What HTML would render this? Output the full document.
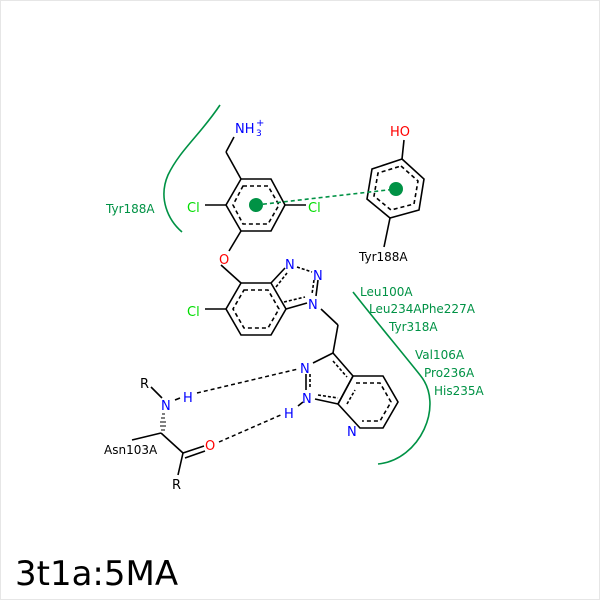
<!DOCTYPE html>
<html><head><style>
html,body{margin:0;padding:0;background:#fff}
svg{display:block}
text{font-family:"DejaVu Sans","Liberation Sans",sans-serif}
</style></head><body>
<svg width="600" height="600" viewBox="0 0 600 600" xmlns="http://www.w3.org/2000/svg">
<rect x="0.5" y="0.5" width="599" height="599" fill="#fff" stroke="#e6e6e6"/>
<g fill="none" stroke="#000" stroke-width="1.6">
<!-- ring A -->
<polygon points="241,179 271,179 285,205 271,231 241,231 226,205"/>
<polygon points="243,186 268,186 279,205 268,224 243,224 233,205" stroke-dasharray="4,3"/>
<line x1="241" y1="179" x2="226" y2="152"/>
<line x1="226" y1="152" x2="234" y2="137"/>
<line x1="226" y1="205" x2="205" y2="205"/>
<line x1="285" y1="205" x2="306" y2="205"/>
<line x1="241" y1="231" x2="229" y2="251"/>
<line x1="221" y1="265" x2="241" y2="283"/>
<!-- ring B -->
<polygon points="402,159 424,179 419,210 390,218 367,199 372,169"/>
<polygon points="401,166 418,181 414,204 391,210 374,196 378,173" stroke-dasharray="4,3"/>
<line x1="402" y1="159" x2="404" y2="140"/>
<line x1="390" y1="218" x2="384" y2="247"/>
<!-- benzotriazole -->
<polygon points="241,283 271,283 286,309 271,335 241,335 226,309"/>
<polygon points="244,290 268,290 279,309 268,328 244,328 233,309" stroke-dasharray="4,3"/>
<line x1="226" y1="309" x2="205" y2="309"/>
<line x1="271" y1="283" x2="285" y2="268"/>
<line x1="286" y1="309" x2="307" y2="303"/>
<line x1="276" y1="287" x2="287" y2="273" stroke-dasharray="3,2"/>
<line x1="297" y1="267" x2="312" y2="272" stroke-dasharray="3,2"/>
<line x1="318" y1="280" x2="316" y2="296"/>
<line x1="314" y1="280" x2="312" y2="294" stroke-dasharray="3,2"/>
<line x1="284" y1="302" x2="305" y2="297" stroke-dasharray="3,2"/>
<line x1="321" y1="309" x2="338" y2="325"/>
<line x1="338" y1="325" x2="333" y2="353"/>
<!-- pyrazolopyridine -->
<line x1="333" y1="353" x2="313" y2="363"/>
<line x1="333" y1="353" x2="353" y2="376"/>
<line x1="333" y1="361" x2="347" y2="377" stroke-dasharray="3,2"/>
<line x1="306" y1="374" x2="306" y2="390"/>
<line x1="310" y1="374" x2="310" y2="388" stroke-dasharray="3,2"/>
<line x1="315" y1="399" x2="338" y2="404"/>
<line x1="318" y1="395" x2="338" y2="398" stroke-dasharray="3,2"/>
<polygon points="353,376 383,376 398,402 383,428 360,428 338,404" />
<line x1="338" y1="404" x2="353" y2="376"/>
<polyline points="356,383 380,383 391,402 380,421 362,421" stroke-dasharray="4,3"/>
<line x1="347" y1="404" x2="355" y2="390" stroke-dasharray="3,2"/>
<line x1="298" y1="406" x2="303" y2="402"/>
<!-- Asn -->
<line x1="151" y1="387" x2="162" y2="398"/>
<line x1="175" y1="400" x2="180" y2="398"/>
<line x1="161" y1="433" x2="132" y2="440"/>
<line x1="161" y1="433" x2="183" y2="453"/>
<line x1="183" y1="453" x2="204" y2="446"/>
<line x1="185" y1="458" x2="205" y2="451"/>
<line x1="183" y1="453" x2="178" y2="475"/>
</g>
<g stroke="#000" stroke-width="1">
<line x1="161" y1="430" x2="165" y2="430"/><line x1="160" y1="426" x2="166" y2="426"/><line x1="160" y1="422" x2="166" y2="422"/><line x1="161" y1="418" x2="165" y2="418"/><line x1="162" y1="414" x2="165" y2="414"/>
</g>
<!-- H-bonds -->
<g stroke="#000" stroke-width="1.5" stroke-dasharray="4,3">
<line x1="197" y1="393" x2="298" y2="369"/>
<line x1="219" y1="442" x2="283" y2="414"/>
</g>
<!-- pi stacking -->
<line x1="256" y1="205" x2="396" y2="189" stroke="#009245" stroke-width="1.6" stroke-dasharray="4,3"/>
<circle cx="256" cy="205" r="7" fill="#009245"/>
<circle cx="396" cy="189" r="7" fill="#009245"/>
<!-- arcs -->
<g fill="none" stroke="#009245" stroke-width="1.6">
<path d="M220,105 C200,135 180,150 168,175 C158,198 168,220 182,232"/>
<path d="M353,292 C375,320 400,350 420,375 C445,405 420,460 378,464"/>
</g>
<!-- labels -->
<g font-size="13">
<text x="235" y="133" fill="#0000ff">NH</text>
<text x="256" y="136" fill="#0000ff" font-size="9">3</text>
<text x="256" y="126" fill="#0000ff" font-size="10">+</text>
<text x="187" y="212" fill="#00dd00">Cl</text>
<text x="308" y="212" fill="#00dd00">Cl</text>
<text x="187" y="316" fill="#00dd00">Cl</text>
<text x="219" y="264" fill="#ff0000">O</text>
<text x="390" y="136" fill="#ff0000">HO</text>
<text x="359" y="261" fill="#000" font-size="12">Tyr188A</text>
<text x="285" y="269" fill="#0000ff">N</text>
<text x="313" y="280" fill="#0000ff">N</text>
<text x="308" y="309" fill="#0000ff">N</text>
<text x="300" y="373" fill="#0000ff">N</text>
<text x="302" y="403" fill="#0000ff">N</text>
<text x="284" y="418" fill="#0000ff">H</text>
<text x="347" y="436" fill="#0000ff">N</text>
<text x="140" y="388" fill="#000">R</text>
<text x="161" y="410" fill="#0000ff">N</text>
<text x="183" y="402" fill="#0000ff">H</text>
<text x="205" y="450" fill="#ff0000">O</text>
<text x="172" y="489" fill="#000">R</text>
<text x="104" y="454" fill="#000" font-size="12">Asn103A</text>
</g>
<g font-size="12" fill="#009245">
<text x="106" y="213">Tyr188A</text>
<text x="360" y="296">Leu100A</text>
<text x="369" y="313">Leu234APhe227A</text>
<text x="389" y="331">Tyr318A</text>
<text x="415" y="359">Val106A</text>
<text x="424" y="377">Pro236A</text>
<text x="434" y="395">His235A</text>
</g>
<text x="15" y="585" font-size="34" fill="#000">3t1a:5MA</text>
</svg>
</body></html>
